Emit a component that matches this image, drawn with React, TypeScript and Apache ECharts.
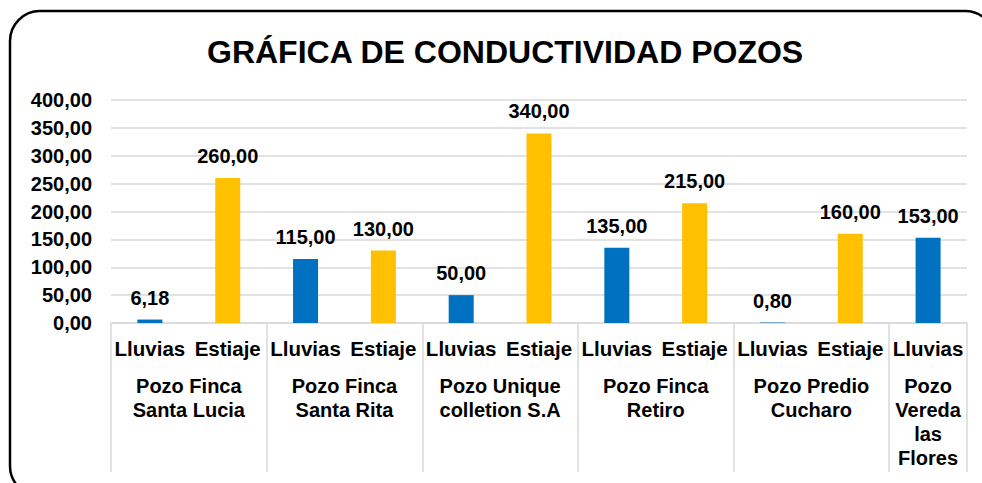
import React, { useEffect, useRef } from "react";
import * as echarts from "echarts";

const TITLE = "GRÁFICA DE CONDUCTIVIDAD POZOS";
const wells = [
  "Pozo Finca\nSanta Lucia",
  "Pozo Finca\nSanta Rita",
  "Pozo Unique\ncolletion S.A",
  "Pozo Finca\nRetiro",
  "Pozo Predio\nCucharo",
  "Pozo\nVereda\nlas\nFlores",
];
const seasons = ["Lluvias", "Estiaje"];
// values per well: [Lluvias, Estiaje] (null = no bar)
const lluvias = [6.18, 115, 50, 135, 0.8, 153];
const estiaje = [260, 130, 340, 215, 160, null];
const yTicks = [0, 400, 50];

const BLUE = "#0070C0";
const GOLD = "#FFC000";
const GRID = "#D9D9D9";
const FONT = "'Liberation Sans', Arial, sans-serif";

const fmt = (v: number) => v.toFixed(2).replace(".", ",");

export default function App() {
  const ref = useRef<HTMLDivElement>(null);
  useEffect(() => {
    document.body.style.margin = "0";
    const chart = echarts.init(ref.current!, null, { renderer: "svg" });

    const cats: string[] = [];
    const data: any[] = [];
    const groupSlots: number[] = [];
    wells.forEach((w, i) => {
      let n = 0;
      [lluvias[i], estiaje[i]].forEach((v, j) => {
        if (v === null || v === undefined) return;
        cats.push(seasons[j]);
        data.push({ value: v, itemStyle: { color: j === 0 ? BLUE : GOLD } });
        n++;
      });
      groupSlots.push(n);
    });
    // half-slot axis for group labels and separators
    const half: string[] = new Array(cats.length * 2 + 1).fill("");
    const sepIdx: number[] = [0];
    let pos = 0;
    wells.forEach((w, i) => {
      const n = groupSlots[i];
      half[pos * 2 + n] = w;
      pos += n;
      sepIdx.push(pos * 2);
    });

    chart.setOption({
      animation: false,
      textStyle: { fontFamily: FONT },
      title: {
        text: TITLE,
        left: 202,
        top: 31,
        textStyle: { fontSize: 32, fontWeight: "bold", color: "#000", fontFamily: FONT },
      },
      graphic: [
        {
          type: "rect",
          shape: { x: 10, y: 11, width: 985, height: 485, r: 30 },
          style: { fill: "none", stroke: "#000", lineWidth: 2.5 },
          z: 100,
        },
      ],
      grid: { left: 111, right: 15, top: 100, bottom: 160, containLabel: false },
      xAxis: [
        {
          type: "category",
          data: cats,
          axisLine: { show: true, lineStyle: { color: GRID, width: 1.5 } },
          axisTick: { show: false },
          axisLabel: {
            interval: 0,
            margin: 15,
            color: "#000",
            fontSize: 20.5,
            fontWeight: "bold",
            fontFamily: FONT,
          },
        },
        {
          type: "category",
          data: half,
          boundaryGap: false,
          position: "bottom",
          axisLine: { show: false },
          axisTick: {
            show: true,
            length: 149,
            interval: (idx: number) => sepIdx.includes(idx),
            lineStyle: { color: GRID, width: 1.5 },
          },
          axisLabel: {
            interval: 0,
            margin: 51,
            color: "#000",
            fontSize: 20,
            lineHeight: 24,
            fontWeight: "bold",
            fontFamily: FONT,
            align: "center",
          },
        },
      ],
      yAxis: {
        type: "value",
        min: yTicks[0],
        max: yTicks[1],
        interval: yTicks[2],
        axisLine: { show: false },
        axisTick: { show: false },
        splitLine: { lineStyle: { color: GRID, width: 1.5 } },
        axisLabel: {
          margin: 19,
          color: "#000",
          fontSize: 20,
          fontWeight: "bold",
          fontFamily: FONT,
          formatter: (v: number) => fmt(v),
        },
      },
      series: [
        {
          type: "bar",
          xAxisIndex: 0,
          data,
          barWidth: 25,
          label: {
            show: true,
            position: "top",
            distance: 12,
            color: "#000",
            fontSize: 20,
            fontWeight: "bold",
            fontFamily: FONT,
            formatter: (p: any) => fmt(p.value),
          },
        },
      ],
    });
    return () => chart.dispose();
  }, []);
  return <div ref={ref} style={{ width: 982, height: 483 }} />;
}
